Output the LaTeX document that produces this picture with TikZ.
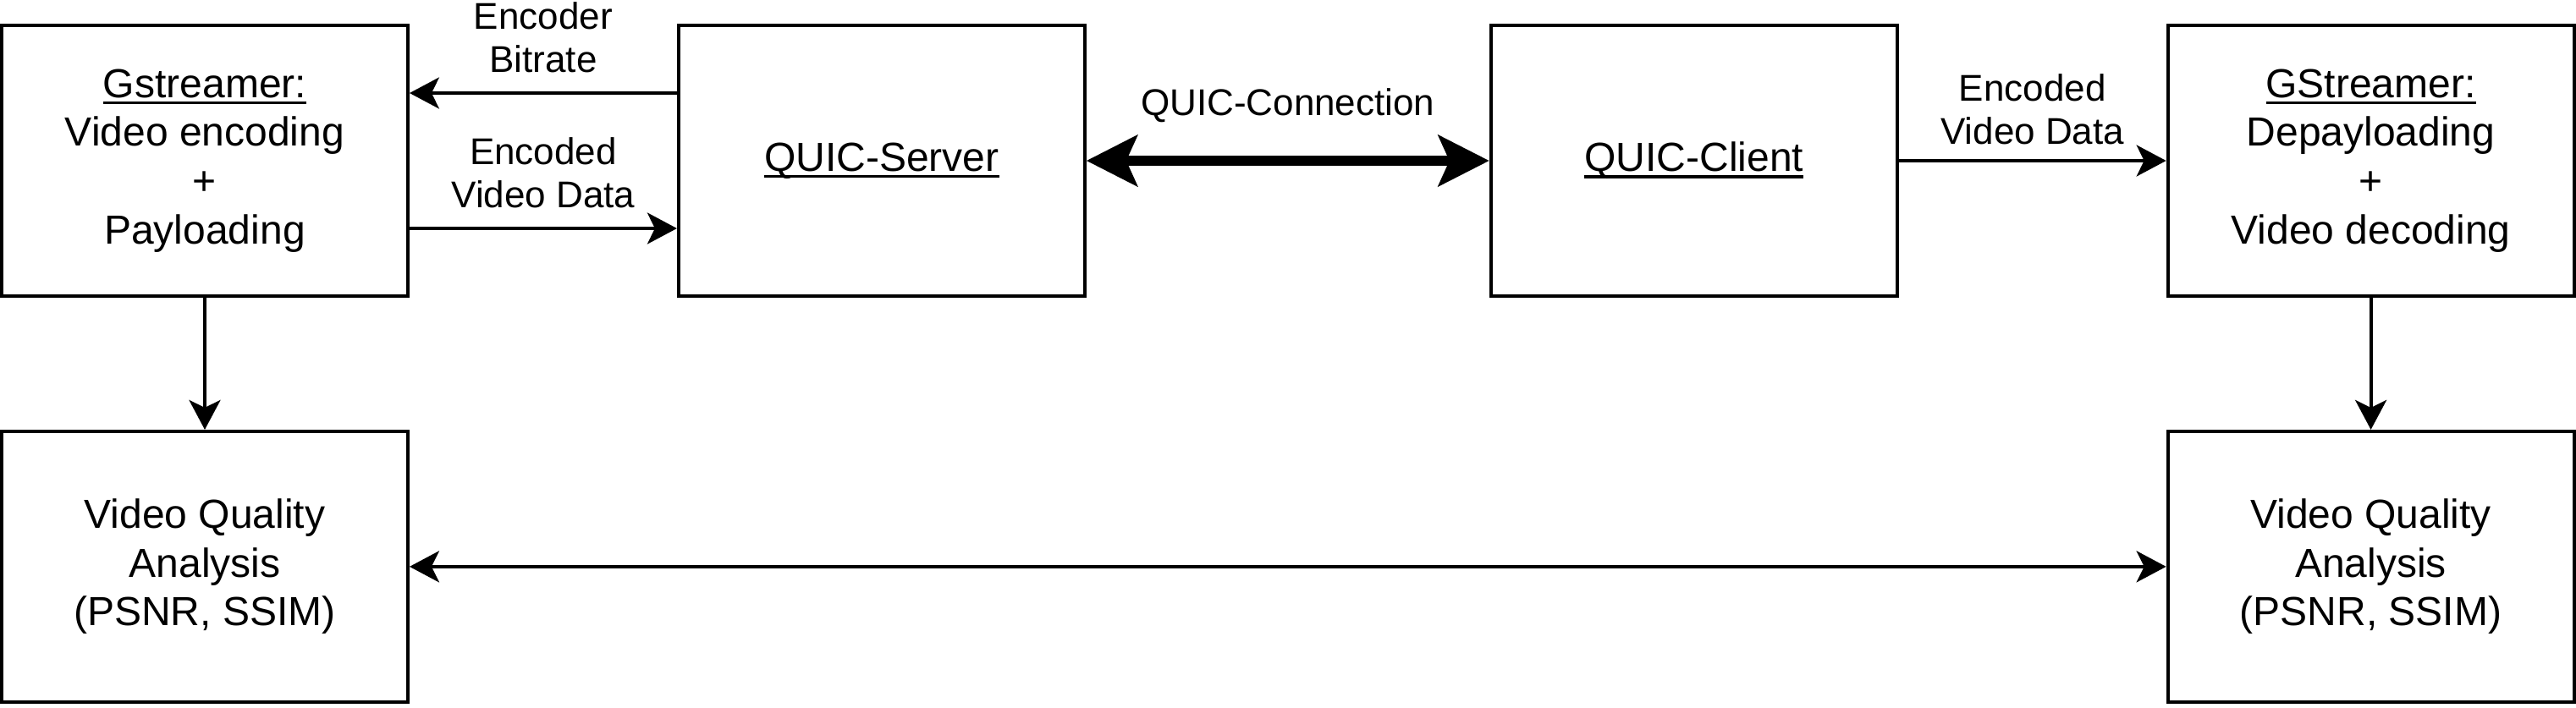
\documentclass[tikz,border=0pt]{standalone}
\usepackage{fontspec}
\setmainfont{Liberation Sans}
\usepackage{tikz}
\usetikzlibrary{arrows.meta, positioning}

\newcommand{\boxfont}{\fontsize{13.66pt}{16.4pt}\selectfont}
\newcommand{\lblfont}{\fontsize{12.52pt}{14.5pt}\selectfont}
\newsavebox{\ulbox}
\newcommand{\ultext}[1]{\sbox{\ulbox}{#1}\rlap{\rule[-2.3pt]{\wd\ulbox}{1pt}}\usebox{\ulbox}}

\begin{document}
\begin{tikzpicture}[
        node distance=3.16cm,
        box/.style={rectangle, draw, line width=1.1pt, minimum width=4.8cm, minimum height=3.2cm, align=center, font=\boxfont},
        arrow/.style={-{Stealth[length=3.5mm, width=3.7mm, inset=0.9mm]}, line width=1.1pt},
        both/.style={{Stealth[length=3.5mm, width=3.7mm, inset=0.9mm]}-{Stealth[length=3.5mm, width=3.7mm, inset=0.9mm]}, line width=1.1pt},
        fat/.style={{Stealth[length=6mm, width=6mm, inset=1.3mm]}-{Stealth[length=6mm, width=6mm, inset=1.3mm]}, line width=3.3pt},
        lbl/.style={align=center, inner sep=0pt, font=\lblfont}
    ]
    \useasboundingbox (0,0) rectangle (30.44,-8.36);

    % Nodes
    \node[box] (gst) at (2.42,-1.90) {\ultext{Gstreamer:}\\Video encoding\\+\\Payloading};
    \node[box, right=of gst] (server) {\ultext{QUIC-Server}};
    \node[box, right=4.76cm of server] (client) {\ultext{QUIC-Client}};
    \node[box, right=of client] (gstr) {\ultext{GStreamer:}\\Depayloading\\+\\Video decoding};
    \node[box, below=1.56cm of gst] (vqa1) {Video Quality\\Analysis\\(PSNR, SSIM)};
    \node[box, below=1.56cm of gstr] (vqa2) {Video Quality\\Analysis\\(PSNR, SSIM)};

    % Arrows
    \draw[arrow] ([yshift=0.8cm]server.west) -- node[lbl, above=0.22cm] {Encoder\\Bitrate} ([yshift=0.8cm]gst.east);
    \draw[arrow] ([yshift=-0.8cm]gst.east) -- node[lbl, above=0.22cm] {Encoded\\Video Data} ([yshift=-0.8cm]server.west);
    \draw[fat] (server) -- node[lbl, above=0.39cm] {QUIC-Connection} (client);
    \draw[arrow] (client) -- node[lbl, above=0.17cm] {Encoded\\Video Data} (gstr);
    \draw[arrow] (gst) -- (vqa1);
    \draw[arrow] (gstr) -- (vqa2);
    \draw[both] (vqa1) -- (vqa2);

\end{tikzpicture}
\end{document}
